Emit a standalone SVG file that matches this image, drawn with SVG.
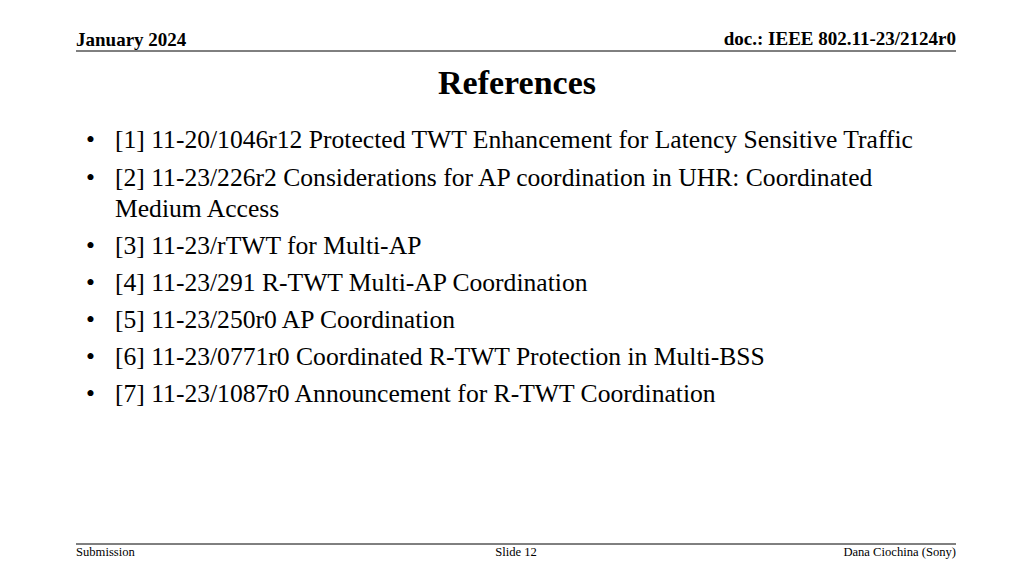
<svg xmlns="http://www.w3.org/2000/svg" width="1024" height="576" viewBox="0 0 1024 576">
<style>
text{font-family:"Liberation Serif",serif;fill:#000}
.h{font-size:19px;font-weight:bold}
.b{font-size:25.6px}
.f{font-size:12.6px}
</style>
<rect width="1024" height="576" fill="#fff"/>
<text class="h" x="76" y="46">January 2024</text>
<text class="h" x="956" y="45" text-anchor="end">doc.: IEEE 802.11-23/2124r0</text>
<line x1="76" y1="51" x2="956" y2="51" stroke="#000" stroke-width="1"/>
<text x="517" y="94" text-anchor="middle" style="font-size:34px;font-weight:bold">References</text>
<g class="b">
<text x="86" y="148">•</text><text x="115" y="148">[1] 11-20/1046r12 Protected TWT Enhancement for Latency Sensitive Traffic</text>
<text x="86" y="186">•</text><text x="115" y="186">[2] 11-23/226r2 Considerations for AP coordination in UHR: Coordinated</text>
<text x="115" y="217">Medium Access</text>
<text x="86" y="254">•</text><text x="115" y="254">[3] 11-23/rTWT for Multi-AP</text>
<text x="86" y="291">•</text><text x="115" y="291">[4] 11-23/291 R-TWT Multi-AP Coordination</text>
<text x="86" y="328">•</text><text x="115" y="328">[5] 11-23/250r0 AP Coordination</text>
<text x="86" y="365">•</text><text x="115" y="365">[6] 11-23/0771r0 Coordinated R-TWT Protection in Multi-BSS</text>
<text x="86" y="402">•</text><text x="115" y="402">[7] 11-23/1087r0 Announcement for R-TWT Coordination</text>
</g>
<line x1="76" y1="544" x2="956" y2="544" stroke="#000" stroke-width="1"/>
<text class="f" x="76" y="556">Submission</text>
<text class="f" x="516" y="556" text-anchor="middle">Slide 12</text>
<text class="f" x="956" y="556" text-anchor="end">Dana Ciochina (Sony)</text>
</svg>
